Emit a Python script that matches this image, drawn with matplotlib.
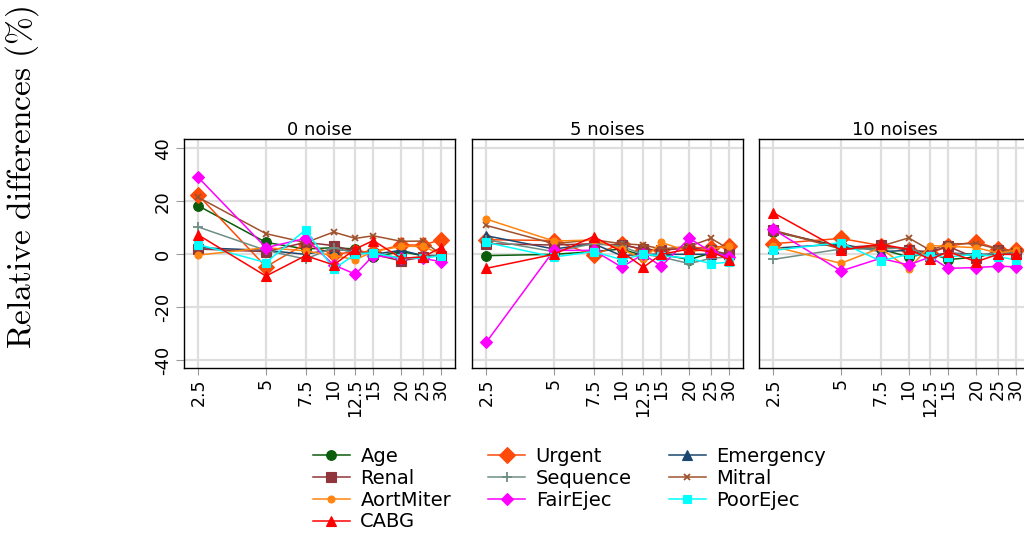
import matplotlib
matplotlib.use("Agg")
import matplotlib.pyplot as plt
from matplotlib.ticker import FixedLocator, NullLocator, FixedFormatter

plt.rcParams["mathtext.fontset"] = "cm"
plt.rcParams["axes.unicode_minus"] = False

# Sample-size grid (x) shared by all panels
sizes = [2.5, 5, 7.5, 10, 12.5, 15, 20, 25, 30]
size_labels = ["2.5", "5", "7.5", "10", "12.5", "15", "20", "25", "30"]
panel_titles = ["0 noise", "5 noises", "10 noises"]
y_ticks = [-40, -20, 0, 20, 40]

# Relative differences (%) per covariate, one list per panel
age = [[18.3, 4.5, 2.0, 2.5, 2.0, -1.0, 1.0, -0.5, -0.5],
       [-0.5, 0.0, 1.0, 2.0, -0.5, 0.0, -2.0, 0.5, -0.5],
       [8.5, 3.0, 2.0, -1.0, 0.5, -2.0, -1.0, 0.5, 0.0]]
urgent = [[22.3, -4.7, 4.0, 0.0, 1.0, 1.0, 3.5, 3.5, 5.5],
          [5.5, 5.2, -0.3, 4.0, 1.5, 1.5, 2.5, 2.5, 3.3],
          [4.0, 6.0, 3.3, 1.5, 0.5, 3.0, 4.8, 2.0, 1.5]]
emergency = [[2.5, 1.5, 0.0, 2.0, 1.0, 0.0, 1.5, -0.5, -0.5],
             [7.0, 2.0, 4.0, -0.5, 0.0, 0.0, 0.0, 0.0, 0.0],
             [2.3, 3.9, 1.0, 1.5, -0.5, 0.5, 0.0, 0.0, 0.0]]
renal = [[2.0, 1.0, 4.5, 3.3, 1.0, 0.0, -2.5, -1.0, -0.5],
         [4.0, 3.5, 4.0, 3.5, 2.0, 1.5, 2.5, 1.5, 0.0],
         [9.0, 2.5, 3.5, 1.5, 1.0, 3.0, -1.5, 1.5, 0.5]]
sequence = [[10.3, 1.5, -1.8, 2.5, 0.5, 0.5, -1.5, -1.0, -0.5],
            [5.5, 1.0, 4.0, 3.0, 0.0, -1.0, -3.5, -1.5, -1.0],
            [-1.9, 2.0, 2.0, 2.5, -1.0, 0.5, -0.5, 0.5, 0.5]]
mitral = [[21.5, 7.8, 4.4, 8.4, 6.0, 7.0, 4.9, 5.0, 0.0],
          [10.9, 4.0, 5.5, 4.0, 3.5, 2.0, 3.0, 6.0, 2.0],
          [9.0, 2.0, 3.0, 6.2, 1.5, 4.0, 4.0, 2.0, 1.0]]
aortmiter = [[-0.3, 2.5, 1.3, -0.5, -2.0, 1.0, 3.0, 3.0, 0.0],
             [13.3, 5.0, 5.4, 2.0, -1.9, 4.5, 1.0, 2.0, 3.0],
             [3.0, -3.4, 2.4, -5.5, 3.3, 3.0, 2.5, 0.5, 1.5]]
fairejec = [[29.0, 2.5, 6.0, -4.0, -7.5, -0.5, -1.5, -1.5, -2.8],
            [-33.2, 1.5, 1.5, -4.8, 0.0, -4.5, 6.0, 1.0, -1.0],
            [9.4, -6.3, -1.5, -4.0, -1.0, -5.3, -5.0, -4.5, -4.7]]
poorejec = [[3.7, -3.1, 9.2, -5.5, 0.0, 0.5, -1.5, -1.5, -0.5],
            [4.5, -1.0, 1.0, -2.0, 0.0, -0.5, -1.5, -3.5, -3.0],
            [1.5, 4.4, -2.5, 0.0, -0.5, -1.0, 0.0, -1.0, -2.0]]
cabg = [[7.3, -8.2, -0.5, -4.0, 2.0, 5.2, -1.5, -1.0, 2.5],
        [-5.3, 0.0, 6.7, 1.0, -4.9, 0.0, 2.0, 1.0, -2.0],
        [15.7, 1.6, 3.8, 1.9, -1.9, 1.0, -2.8, 0.0, 0.0]]

# name, values, colour, marker, marker size
series = [
    ("Age", age, "#0b5d0b", "o", 7),
    ("Urgent", urgent, "#ff4a0a", "D", 8.5),
    ("Emergency", emergency, "#1a476f", "^", 7),
    ("Renal", renal, "#90353b", "s", 7),
    ("Sequence", sequence, "#6e8e84", "+", 7),
    ("Mitral", mitral, "#a0522d", "x", 5),
    ("AortMiter", aortmiter, "#ff8410", "o", 5),
    ("FairEjec", fairejec, "#ff00ff", "D", 6),
    ("PoorEjec", poorejec, "#00ffff", "s", 6),
    ("CABG", cabg, "#ff0000", "^", 7),
]

fig = plt.figure(figsize=(10.24, 5.33), dpi=100)
W, H = 1024.0, 533.0
bottom = 1 - 368.3 / H
height = (368.3 - 139.0) / H
lefts = [184.3, 472.3, 759.3]
width = 270.5 / W

grid_col = "#dedede"
handles = {}
for p, lx in enumerate(lefts):
    ax = fig.add_axes([lx / W, bottom, width, height])
    ax.set_xscale("log")
    ax.set_xlim(2.167, 34.6)
    ax.set_ylim(-43, 43.5)
    for name, vals, col, mk, ms in series:
        mew = 1.3 if mk in ("+", "x") else 0.8
        ln, = ax.plot(sizes, vals[p], color=col, marker=mk, markersize=ms,
                      linewidth=1.1, markeredgewidth=mew,
                      markeredgecolor=col, label=name, zorder=3)
        if p == 0:
            handles[name] = ln
    ax.xaxis.set_major_locator(FixedLocator(sizes))
    ax.xaxis.set_major_formatter(FixedFormatter(size_labels))
    ax.xaxis.set_minor_locator(NullLocator())
    ax.set_yticks(y_ticks)
    ax.grid(True, color=grid_col, linewidth=1.6, zorder=0)
    ax.set_axisbelow(True)
    for s in ax.spines.values():
        s.set_color("black")
        s.set_linewidth(1.0)
    ax.tick_params(axis="x", which="major", direction="out", length=5,
                   color="#9a9a9a", labelsize=12.5, labelrotation=90, pad=2)
    if p == 0:
        ax.tick_params(axis="y", direction="out", length=6, color="#9a9a9a",
                       labelsize=13, pad=3)
        for t in ax.get_yticklabels():
            t.set_rotation(90)
            t.set_va("center")
    else:
        ax.tick_params(axis="y", length=0, labelleft=False)
    ax.set_title(panel_titles[p], fontsize=13, pad=3)

fig.text(22 / W, 1 - 177 / H, r"$\mathrm{Relative\ differences\ (\%)}$",
         rotation=90, ha="center", va="center", fontsize=24)

# legend reads row-wise: three entries per row
legend_order = ["Age", "Renal", "AortMiter", "CABG",
                "Urgent", "Sequence", "FairEjec",
                "Emergency", "Mitral", "PoorEjec"]
leg = fig.legend(handles=[handles[n] for n in legend_order],
                 loc="upper left", ncol=3,
                 bbox_to_anchor=(303 / W, 1 - 437 / H), frameon=False,
                 fontsize=14, handlelength=1.9, handletextpad=0.55,
                 columnspacing=1.9, labelspacing=0.15, borderpad=0.0)

fig.savefig("out.png", dpi=100)
